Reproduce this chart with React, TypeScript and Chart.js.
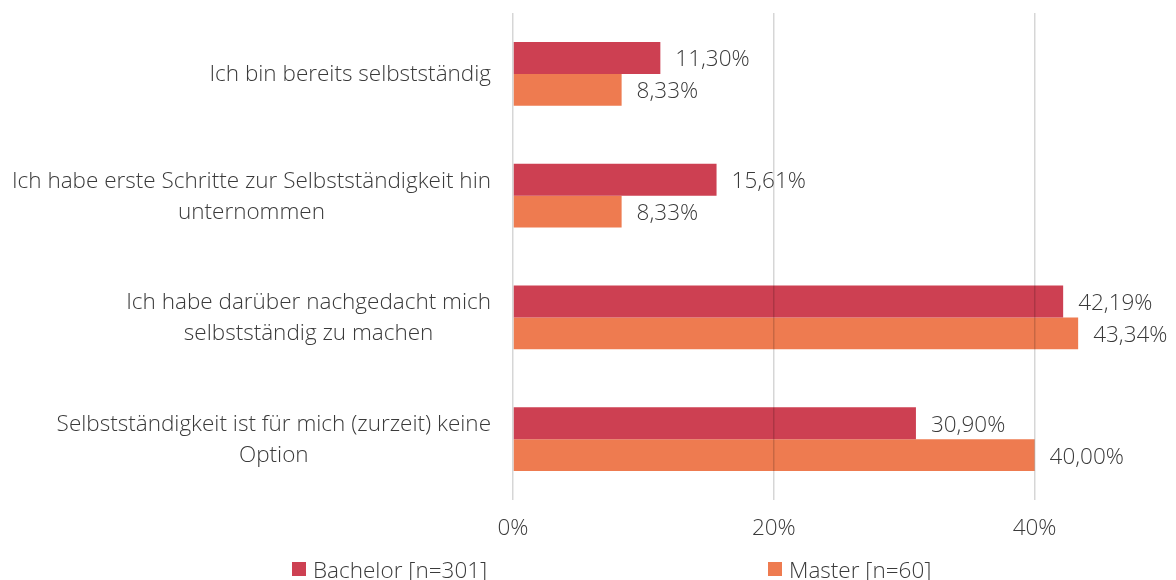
import React, { useEffect, useRef } from "react";
import { Chart, registerables } from "chart.js";

Chart.register(...registerables);

const categories: string[][] = [
  ["Ich bin bereits selbstständig"],
  ["Ich habe erste Schritte zur Selbstständigkeit hin", "unternommen"],
  ["Ich habe darüber nachgedacht mich", "selbstständig zu machen"],
  ["Selbstständigkeit ist für mich (zurzeit) keine", "Option"],
];
const seriesNames = ["Bachelor [n=301]", "Master [n=60]"];
const bachelorValues = [11.3, 15.61, 42.19, 30.9];
const masterValues = [8.33, 8.33, 43.34, 40.0];
const xTickValues = [0, 20, 40];
const xMax = 50;

const FONT_FAMILY = "'Open Sans', Lato, sans-serif";
const FONT_WEIGHT = "300";
const FONT_SIZE = 22.5;
const TEXT_COLOR = "#3A3A3A";
const COLORS = ["#CD4052", "#EE7B50"];

const fmt = (v: number) => v.toFixed(2).replace(".", ",") + "%";

const yLabelPlugin = {
  id: "yLabels",
  afterDraw(chart: any) {
    const ctx = chart.ctx;
    const y = chart.scales.y;
    const rightEdge = chart.chartArea.left - 22;
    const lineH = 31;
    ctx.save();
    ctx.font = `${FONT_WEIGHT} ${FONT_SIZE}px ${FONT_FAMILY}`;
    ctx.fillStyle = TEXT_COLOR;
    ctx.textAlign = "center";
    ctx.textBaseline = "middle";
    categories.forEach((lines, i) => {
      const cy = y.getPixelForValue(i);
      const widths = lines.map((l) => ctx.measureText(l).width);
      const bw = Math.max(...widths);
      const cx = rightEdge - bw / 2;
      const top = cy - ((lines.length - 1) * lineH) / 2;
      lines.forEach((l, j) => ctx.fillText(l, cx, top + j * lineH + 1));
    });
    ctx.restore();
  },
};

const dataLabelPlugin = {
  id: "dataLabels",
  afterDraw(chart: any) {
    const ctx = chart.ctx;
    ctx.save();
    ctx.font = `${FONT_WEIGHT} ${FONT_SIZE}px ${FONT_FAMILY}`;
    ctx.fillStyle = TEXT_COLOR;
    ctx.textAlign = "left";
    ctx.textBaseline = "middle";
    chart.data.datasets.forEach((ds: any, di: number) => {
      const meta = chart.getDatasetMeta(di);
      meta.data.forEach((el: any, i: number) => {
        ctx.fillText(fmt(ds.data[i]), el.x + 15, el.y + 2);
      });
    });
    ctx.restore();
  },
};

const legendPlugin = {
  id: "customLegend",
  afterDraw(chart: any) {
    const ctx = chart.ctx;
    const starts = [292, 768];
    const boxTop = 562;
    const box = 14;
    ctx.save();
    ctx.font = `${FONT_WEIGHT} ${FONT_SIZE}px ${FONT_FAMILY}`;
    ctx.textAlign = "left";
    ctx.textBaseline = "alphabetic";
    chart.data.datasets.forEach((ds: any, di: number) => {
      ctx.fillStyle = ds.backgroundColor;
      ctx.fillRect(starts[di], boxTop, box, box);
      ctx.fillStyle = TEXT_COLOR;
      ctx.fillText(ds.label, starts[di] + box + 7, boxTop + 16);
    });
    ctx.restore();
  },
};

export default function App() {
  const ref = useRef<HTMLCanvasElement | null>(null);
  useEffect(() => {
    if (!ref.current) return;
    const chart = new Chart(ref.current, {
      type: "bar",
      data: {
        labels: categories.map((c) => c.join(" ")),
        datasets: [
          { label: seriesNames[0], data: bachelorValues, backgroundColor: COLORS[0], borderWidth: 0 },
          { label: seriesNames[1], data: masterValues, backgroundColor: COLORS[1], borderWidth: 0 },
        ],
      },
      options: {
        indexAxis: "y",
        responsive: false,
        animation: false,
        layout: { padding: { left: 0, right: 11, top: 13, bottom: 60 } },
        datasets: { bar: { categoryPercentage: 0.525, barPercentage: 1 } },
        plugins: { legend: { display: false }, title: { display: false }, tooltip: { enabled: false } },
        scales: {
          y: {
            type: "category",
            ticks: { display: false },
            grid: { display: false },
            border: { display: false },
            afterFit: (s: any) => {
              s.width = 513;
            },
          },
          x: {
            type: "linear",
            min: 0,
            max: xMax,
            afterBuildTicks: (s: any) => {
              s.ticks = xTickValues.map((v) => ({ value: v }));
            },
            afterFit: (s: any) => {
              s.height = 40;
            },
            grid: { color: "rgba(0,0,0,0.16)", lineWidth: 1.5, drawTicks: false, z: 1 },
            border: { display: false },
            ticks: {
              padding: 15,
              maxRotation: 0,
              color: TEXT_COLOR,
              font: { family: FONT_FAMILY, size: FONT_SIZE, weight: FONT_WEIGHT as any },
              callback: (v: any) => v + "%",
            },
          },
        },
      },
      plugins: [yLabelPlugin, dataLabelPlugin, legendPlugin],
    });
    return () => chart.destroy();
  }, []);
  return (
    <div style={{ position: "absolute", left: 0, top: 0, width: 1176, height: 600 }}>
      <canvas ref={ref} width={1176} height={600} style={{ display: "block" }} />
    </div>
  );
}
